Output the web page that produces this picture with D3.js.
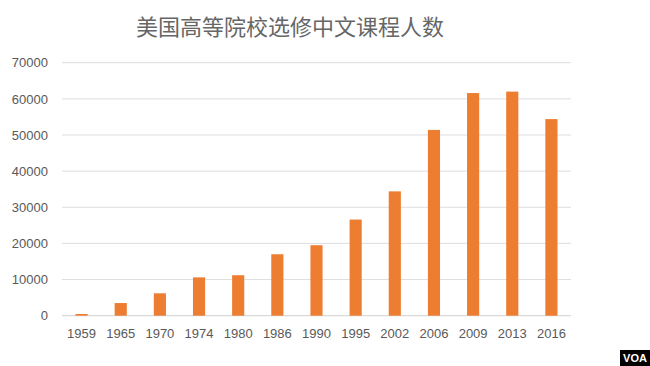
<!DOCTYPE html>
<html>
<head>
<meta charset="utf-8">
<script src="https://cdn.jsdelivr.net/npm/d3@7"></script>
<style>
  html, body { margin: 0; padding: 0; background: #fff; }
  svg { display: block; }
</style>
</head>
<body>
<script>
const years = ["1959","1965","1970","1974","1980","1986","1990","1995","2002","2006","2009","2013","2016"];
const enrollments = [470, 3500, 6200, 10600, 11200, 17000, 19500, 26600, 34400, 51400, 61600, 62000, 54400];
const yTicks = [0, 10000, 20000, 30000, 40000, 50000, 60000, 70000];
const title = "美国高等院校选修中文课程人数";

const W = 650, H = 366;
const svg = d3.select("body").append("svg").attr("width", W).attr("height", H);

const x = d3.scaleBand().domain(years).range([62, 571]).paddingInner(0.69).paddingOuter(0.345);
const y = d3.scaleLinear().domain([0, 70000]).range([315.7, 62.7]);

const font = "'Liberation Sans', Arial, sans-serif";

// gridlines
svg.append("g").selectAll("line").data(yTicks).join("line")
  .attr("x1", 62).attr("x2", 571)
  .attr("y1", d => y(d)).attr("y2", d => y(d))
  .attr("stroke", d => d === 0 ? "#d0d0d0" : "#dedede").attr("stroke-width", 1);

// y axis labels
const yAxis = d3.axisLeft(y).tickValues(yTicks).tickSize(0).tickPadding(0).tickFormat(d3.format("d"));
const yg = svg.append("g").attr("transform", "translate(48,0)").call(yAxis);
yg.select(".domain").remove();
yg.selectAll("text").attr("font-family", font).attr("font-size", 13).attr("fill", "#595959");

// bars
svg.append("g").selectAll("rect").data(years).join("rect")
  .attr("x", d => x(d))
  .attr("width", x.bandwidth())
  .attr("y", (d, i) => y(enrollments[i]))
  .attr("height", (d, i) => y(0) - y(enrollments[i]))
  .attr("fill", "#ED7D31");

// x axis labels
const xAxis = d3.axisBottom(x).tickSize(0).tickPadding(0);
const xg = svg.append("g").attr("transform", "translate(0,329)").call(xAxis);
xg.select(".domain").remove();
xg.selectAll("text").attr("font-family", font).attr("font-size", 13).attr("fill", "#595959");

// title
svg.append("text").attr("x", 290).attr("y", 35).attr("text-anchor", "middle")
  .attr("font-family", "'Noto Sans CJK SC', sans-serif").attr("font-size", 22)
  .attr("fill", "#666").text(title);

// VOA logo
svg.append("rect").attr("x", 620).attr("y", 350).attr("width", 30).attr("height", 16).attr("fill", "#000");
svg.append("text").attr("x", 635).attr("y", 362).attr("text-anchor", "middle")
  .attr("font-family", font).attr("font-weight", "bold").attr("font-size", 11)
  .attr("fill", "#fff").text("VOA");
</script>
</body>
</html>
